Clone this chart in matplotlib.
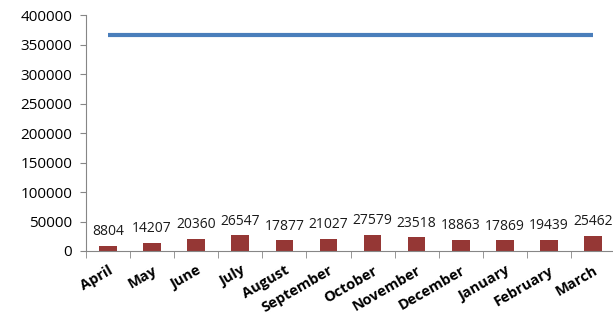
import numpy as np
import matplotlib.pyplot as plt

months = ['April', 'May', 'June', 'July', 'August', 'September', 'October',
          'November', 'December', 'January', 'February', 'March']
monthly = [8804, 14207, 20360, 26547, 17877, 21027, 27579, 23518, 18863,
           17869, 19439, 25462]
target = [366000] * 12

plt.rcParams['font.family'] = ['Open Sans', 'DejaVu Sans']

fig = plt.figure(figsize=(6.13, 3.18), dpi=100)
ax = fig.add_axes([86 / 613, 1 - 251 / 318, 529 / 613, 236 / 318])

x = np.arange(len(months))
ax.bar(x, monthly, width=0.4, color='#953735', zorder=2)
ax.plot(x, target, color='#4A7EBB', linewidth=3, solid_capstyle='butt', zorder=3)

for xi, v in zip(x, monthly):
    ax.text(xi, v + 11000, str(v), ha='center', va='bottom', fontsize=10,
            color='#1a1a1a')

ax.set_xlim(-0.5, len(months) - 0.5)
ax.set_ylim(0, 400000)
ax.set_yticks(range(0, 400001, 50000))
ax.tick_params(axis='y', labelsize=11, length=4, color='#868686', pad=6)

ax.set_xticks(x)
ax.set_xticklabels(months, rotation=30, ha='right', rotation_mode='anchor',
                   fontsize=10.5, fontweight='bold')
ax.tick_params(axis='x', length=0, pad=9)
ax.set_xticks(np.arange(-0.5, len(months)), minor=True)
ax.tick_params(axis='x', which='minor', length=5, color='#868686')

for s in ['top', 'right']:
    ax.spines[s].set_visible(False)
for s in ['left', 'bottom']:
    ax.spines[s].set_color('#868686')

fig.savefig('out.png', dpi=100)
